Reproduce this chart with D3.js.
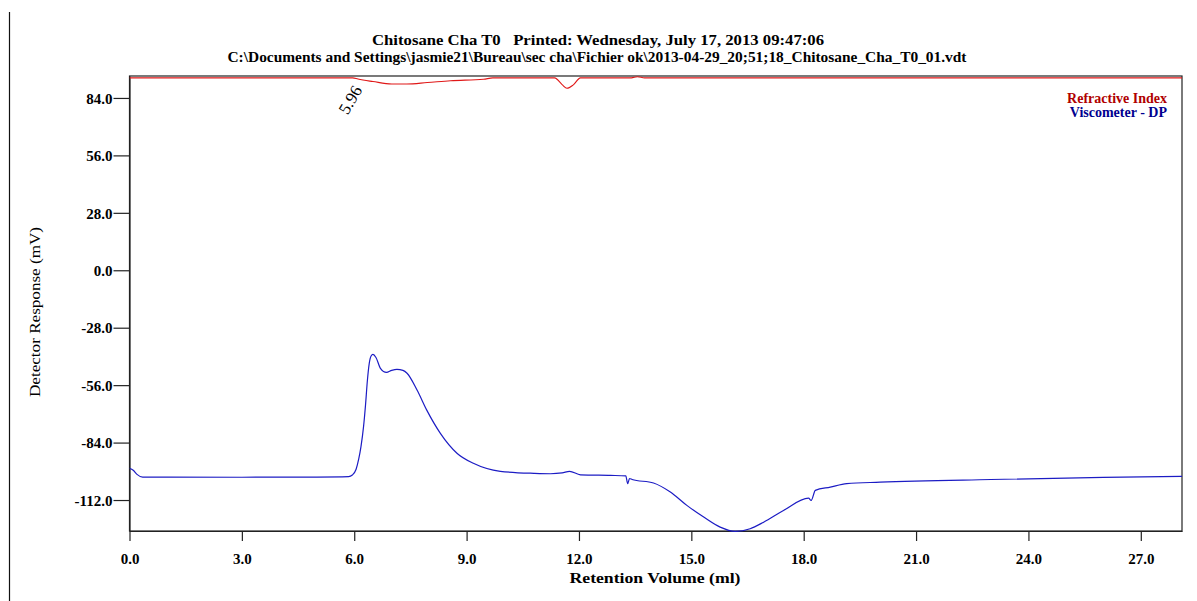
<!DOCTYPE html>
<html>
<head>
<meta charset="utf-8">
<script src="https://cdn.jsdelivr.net/npm/d3@7"></script>
<style>
  html, body { margin: 0; padding: 0; background: #fff; }
  svg { display: block; }
  text { font-family: "Liberation Serif", "Times New Roman", serif; }
</style>
</head>
<body>
<svg id="chart" width="1197" height="601"></svg>
<script>
// ---- data ----
const titleLine1 = "Chitosane Cha T0   Printed: Wednesday, July 17, 2013 09:47:06";
const titleLine2 = "C:\\Documents and Settings\\jasmie21\\Bureau\\sec cha\\Fichier ok\\2013-04-29_20;51;18_Chitosane_Cha_T0_01.vdt";
const xLabel = "Retention Volume (ml)";
const yLabel = "Detector Response (mV)";
const seriesNames = ["Refractive Index", "Viscometer - DP"];
const xTicks = [0, 3, 6, 9, 12, 15, 18, 21, 24, 27];
const yTicks = [84, 56, 28, 0, -28, -56, -84, -112];
const peakLabel = "5.96";
const peakVolume = 5.96;

// Refractive Index trace
const riVolume   = [0, 5.96, 6.1, 6.5, 7.0, 7.4, 7.95, 8.57, 9.45, 9.7, 11.35, 11.55, 11.68, 11.85, 12.04, 13.4, 13.56, 13.75, 28.1];
const riResponse = [93.8, 93.8, 93.2, 92.0, 90.8, 90.8, 91.5, 92.4, 93.1, 93.8, 93.8, 90.5, 88.7, 90.4, 93.8, 93.8, 94.3, 93.8, 93.8];

// Viscometer - DP trace
const dpVolume = [0.0, 0.1, 0.2, 0.35, 1.0, 3.0, 5.0, 5.85, 5.95, 6.05, 6.12, 6.18, 6.25, 6.3, 6.35, 6.4, 6.45, 6.5, 6.58, 6.7, 6.86, 7.0, 7.14, 7.3, 7.41, 7.68, 7.94, 8.3, 8.75, 9.18, 9.9, 10.8, 11.24, 11.55, 11.75, 12.04, 12.84, 13.25, 13.3, 13.35, 13.42, 13.99, 14.44, 14.88, 15.33, 15.77, 16.17, 16.57, 16.93, 17.46, 18.13, 18.2, 18.31, 18.71, 19.15, 20.04, 23.0, 26.0, 28.1];
const dpResponse = [-96.5, -97.5, -99.5, -100.8, -100.8, -100.9, -100.8, -100.6, -99.8, -97.0, -92.0, -86.0, -76.0, -66.0, -54.0, -45.5, -41.8, -41.0, -42.5, -47.8, -49.8, -48.8, -48.3, -48.8, -50.2, -58.5, -68.3, -79.5, -89.3, -94.1, -98.0, -99.0, -99.2, -98.8, -98.0, -99.7, -100.0, -100.2, -104.0, -101.5, -102.0, -103.7, -108.1, -114.6, -120.3, -125.2, -127.3, -126.0, -122.8, -117.1, -111.1, -112.2, -107.3, -105.7, -104.0, -103.3, -102.0, -101.0, -100.5];

// ---- layout ----
const svg = d3.select("#chart");
const pLeft = 129.5, pRight = 1182, pTop = 76, pBottom = 531;

const x = d3.scaleLinear().domain([0, 28.1]).range([pLeft, pRight]);
const y = d3.scaleLinear().domain([-127.1, 94.7]).range([pBottom, pTop]);
const fmt = d => d.toFixed(1);

// page border line at left
svg.append("line").attr("x1", 9.5).attr("x2", 9.5).attr("y1", 12).attr("y2", 601)
  .attr("stroke", "#111").attr("stroke-width", 1.2);

// titles
svg.append("text").attr("x", 598).attr("y", 45).attr("text-anchor", "middle")
  .attr("font-size", 14).attr("font-weight", "bold")
  .attr("textLength", 452).attr("lengthAdjust", "spacingAndGlyphs")
  .style("white-space", "pre").text(titleLine1);
svg.append("text").attr("x", 597).attr("y", 62).attr("text-anchor", "middle")
  .attr("font-size", 14).attr("font-weight", "bold")
  .attr("textLength", 739).attr("lengthAdjust", "spacingAndGlyphs")
  .text(titleLine2);

// frame
svg.append("rect").attr("x", pLeft).attr("y", pTop).attr("width", pRight - pLeft).attr("height", pBottom - pTop)
  .attr("fill", "none").attr("stroke", "#222").attr("stroke-width", 1.2);

// axes
const xAxis = svg.append("g").attr("transform", `translate(0,${pBottom})`)
  .call(d3.axisBottom(x).tickValues(xTicks).tickFormat(fmt).tickSizeInner(10).tickSizeOuter(0).tickPadding(12));
const yAxis = svg.append("g").attr("transform", `translate(${pLeft},0)`)
  .call(d3.axisLeft(y).tickValues(yTicks).tickFormat(fmt).tickSizeInner(16).tickSizeOuter(0).tickPadding(1));
[xAxis, yAxis].forEach(g => {
  g.select(".domain").attr("stroke", "#222").attr("stroke-width", 1.2);
  g.selectAll(".tick line").attr("stroke", "#222").attr("stroke-width", 1.2);
  g.selectAll(".tick text").attr("font-family", "Liberation Serif, serif")
    .attr("font-size", 15).attr("font-weight", "bold").attr("fill", "#000");
});
yAxis.selectAll(".tick text").attr("dy", "0.35em");

// axis labels
svg.append("text").attr("x", 655).attr("y", 583).attr("text-anchor", "middle")
  .attr("font-size", 14).attr("font-weight", "bold").attr("textLength", 171).attr("lengthAdjust", "spacingAndGlyphs")
  .text(xLabel);
svg.append("text").attr("transform", "translate(40,312) rotate(-90)").attr("text-anchor", "middle")
  .attr("font-size", 14).attr("textLength", 170).attr("lengthAdjust", "spacingAndGlyphs")
  .text(yLabel);

// traces
svg.append("clipPath").attr("id", "plotclip").append("rect")
  .attr("x", pLeft).attr("y", pTop).attr("width", pRight - pLeft).attr("height", pBottom - pTop + 1);

const line = d3.line().x(d => x(d[0])).y(d => y(d[1])).curve(d3.curveMonotoneX);
const riData = riVolume.map((v, i) => [v, riResponse[i]]);
const dpData = dpVolume.map((v, i) => [v, dpResponse[i]]);

svg.append("path").datum(riData).attr("d", line).attr("fill", "none")
  .attr("stroke", "#e01818").attr("stroke-width", 1.1).attr("clip-path", "url(#plotclip)");
svg.append("path").datum(dpData).attr("d", line).attr("fill", "none")
  .attr("stroke", "#1c1cc4").attr("stroke-width", 1.2).attr("clip-path", "url(#plotclip)");

// peak label
svg.append("text")
  .attr("transform", `translate(${x(peakVolume) + 10},${y(93.8) + 12}) rotate(-60)`)
  .attr("text-anchor", "end").attr("font-family", "DejaVu Sans, sans-serif").attr("font-size", 17)
  .attr("fill", "#000").text(peakLabel);

// legend
const legendColors = ["#b00000", "#000090"];
seriesNames.forEach((name, i) => {
  svg.append("text").attr("x", 1167).attr("y", 103 + i * 14).attr("text-anchor", "end")
    .attr("font-size", 14).attr("font-weight", "bold").attr("fill", legendColors[i])
    .text(name);
});
</script>
</body>
</html>
